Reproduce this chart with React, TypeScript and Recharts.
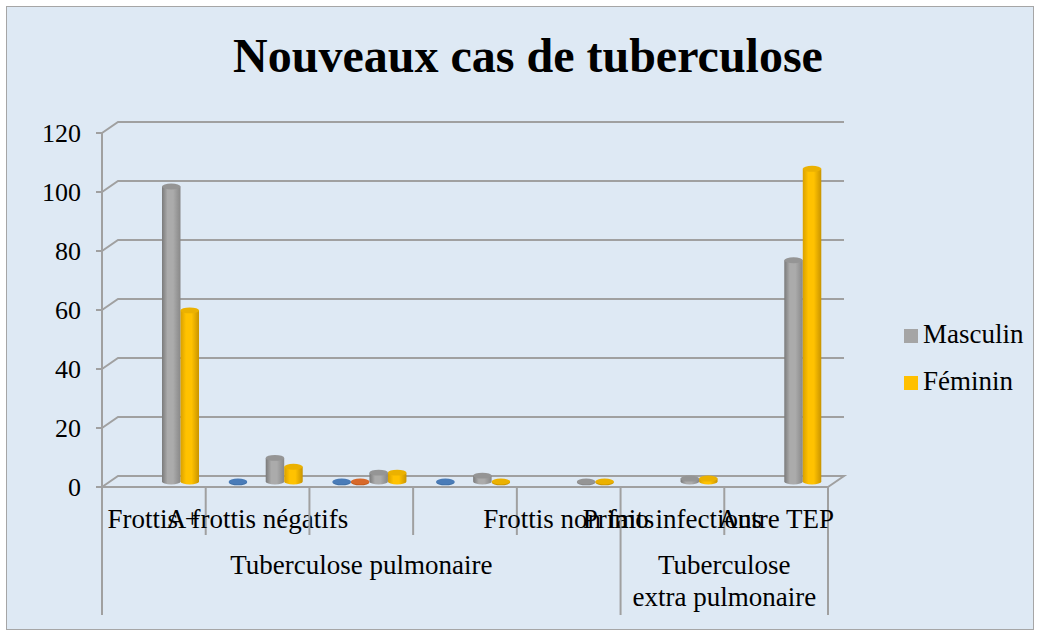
import React from 'react';
import { ComposedChart, Bar, XAxis, YAxis, CartesianGrid } from 'recharts';

// ---- data ----
const categories = ['Frottis +', 'A frottis négatifs', '', '', 'Frottis non faits', 'Primo infections', 'Autre TEP'];
const groupLabels = [['Tuberculose pulmonaire'], ['Tuberculose', 'extra pulmonaire']];
const groupSpans = [5, 2];
const serie1 = [null, 0, 0, 0, null, null, null];
const serie2 = [null, null, 0, null, null, null, null];
const masculin = [100, 8, 3, 2, 0, 1, 75];
const feminin = [58, 5, 3, 0, 0, 1, 106];
const yTicks = [0, 20, 40, 60, 80, 100, 120];

const data = categories.map((c, i) => ({
  idx: i,
  name: c,
  s1: serie1[i],
  s2: serie2[i],
  m: masculin[i],
  f: feminin[i],
}));

// ---- layout ----
const W = 1040;
const H = 632;
const MARGIN = { top: 133, right: 212, bottom: 15, left: 42 };
const YAXIS_W = 60;
const XAXIS_H = 130;
const PLOT_LEFT = MARGIN.left + YAXIS_W;
const PLOT_RIGHT = W - MARGIN.right;
const BAND = (PLOT_RIGHT - PLOT_LEFT) / categories.length;
const DEPTH_X = 16;
const DEPTH_Y = -11;
const GRID = '#a0a0a0';
const FONT = '"Liberation Serif", "Times New Roman", serif';

function makeCylinder(key: string, edge: string, mid: string, right: string, top: string) {
  return (props: any) => {
    const { x, y, width, height, payload, index } = props;
    if (!payload || payload[key] == null) return null;
    const dx = DEPTH_X / 2;
    const dy = DEPTH_Y / 2;
    const cx = x + dx;
    const w = width;
    const ry = Math.max(2.5, w * 0.16);
    const h = Math.max(0, height);
    const ty = y + dy;
    const by = y + h + dy;
    const gid = `cyl-${key}-${index}`;
    return (
      <g>
        <defs>
          <linearGradient id={gid} x1="0" y1="0" x2="1" y2="0">
            <stop offset="0%" stopColor={edge} />
            <stop offset="30%" stopColor={mid} />
            <stop offset="60%" stopColor={mid} />
            <stop offset="100%" stopColor={right} />
          </linearGradient>
        </defs>
        {h > 0.5 && (
          <path
            d={`M${cx},${ty} L${cx},${by} A${w / 2},${ry} 0 0 0 ${cx + w},${by} L${cx + w},${ty} Z`}
            fill={`url(#${gid})`}
          />
        )}
        {h <= 0.5 && (
          <ellipse cx={cx + w / 2} cy={by + 0.8} rx={w / 2} ry={ry} fill={right} />
        )}
        <ellipse cx={cx + w / 2} cy={ty} rx={w / 2} ry={ry} fill={top} />
      </g>
    );
  };
}

const blueShape = makeCylinder('s1', '#3f6fa5', '#4f81bd', '#3f6fa5', '#4a7cb8');
const orangeShape = makeCylinder('s2', '#c05a1c', '#e0702a', '#c05a1c', '#d8692a');
const grayShape = makeCylinder('m', '#7a7a7a', '#ababab', '#888888', '#959595');
const yellowShape = makeCylinder('f', '#d9a000', '#ffc200', '#c99400', '#ebb100');

const gridLine = (props: any) => {
  const { x1, x2, y1, index } = props;
  const plotBottom = H - MARGIN.bottom - XAXIS_H;
  const isFloor = Math.abs(y1 - plotBottom) < 1.5;
  const d =
    `M${x1},${y1} L${x1 + DEPTH_X},${y1 + DEPTH_Y} L${x2 + DEPTH_X},${y1 + DEPTH_Y}` +
    (isFloor ? ` L${x2},${y1}` : '');
  return <path key={`g-${index}-${y1}`} d={d} stroke={GRID} strokeWidth={2} fill="none" />;
};

const XTick = (props: any) => {
  const { x, y, payload } = props;
  const i = Number(payload.value);
  const left = x - BAND / 2;
  const right = x + BAND / 2;
  const starts: number[] = [];
  let acc = 0;
  groupSpans.forEach((s) => {
    starts.push(acc);
    acc += s;
  });
  const gIndex = starts.indexOf(i);
  const isGroupStart = gIndex >= 0;
  const isLast = i === categories.length - 1;
  return (
    <g>
      <line x1={left} y1={y} x2={left} y2={y + (isGroupStart ? 128 : 48)} stroke={GRID} strokeWidth={2} />
      {isLast && <line x1={right} y1={y} x2={right} y2={y + 128} stroke={GRID} strokeWidth={2} />}
      <text x={x} y={y + 41} textAnchor="middle" fontSize={27} fontFamily={FONT} fill="#000">
        {categories[i]}
      </text>
      {isGroupStart && (
        <text
          x={left + (groupSpans[gIndex] * BAND) / 2}
          y={y + 87}
          textAnchor="middle"
          fontSize={27}
          fontFamily={FONT}
          fill="#000"
        >
          {groupLabels[gIndex].map((ln, k) => (
            <tspan key={k} x={left + (groupSpans[gIndex] * BAND) / 2} dy={k === 0 ? 0 : 32}>
              {ln}
            </tspan>
          ))}
        </text>
      )}
    </g>
  );
};

export default function App() {
  return (
    <div style={{ position: 'absolute', left: 0, top: 0, width: W, height: H, background: '#fff', fontFamily: FONT }}>
      <div
        style={{
          position: 'absolute',
          left: 6,
          top: 6,
          width: 1026,
          height: 622,
          border: '1px solid #a6a6a6',
          background: '#dee9f4',
        }}
      />
      <div style={{ position: 'absolute', left: 0, top: 0 }}>
        <ComposedChart width={W} height={H} data={data} margin={MARGIN} barGap={0} barSize={18.5}>
          <CartesianGrid vertical={false} horizontal={gridLine} stroke={GRID} />
          <XAxis
            dataKey="idx"
            type="category"
            interval={0}
            height={XAXIS_H}
            tickSize={0}
            tickMargin={0}
            tickLine={false}
            axisLine={{ stroke: GRID, strokeWidth: 2 }}
            tick={<XTick />}
          />
          <YAxis
            width={YAXIS_W}
            domain={[0, 120]}
            ticks={yTicks}
            interval={0}
            tickSize={6}
            tickMargin={15}
            tickLine={{ stroke: GRID, strokeWidth: 2 }}
            axisLine={{ stroke: GRID, strokeWidth: 2 }}
            tick={{ fill: '#000', fontSize: 26, fontFamily: FONT }}
          />
          <Bar dataKey="s1" name="Série 1" fill="#4f81bd" shape={blueShape} isAnimationActive={false} />
          <Bar dataKey="s2" name="Série 2" fill="#e0702a" shape={orangeShape} isAnimationActive={false} />
          <Bar dataKey="m" name="Masculin" fill="#a5a5a5" shape={grayShape} isAnimationActive={false} />
          <Bar dataKey="f" name="Féminin" fill="#ffc000" shape={yellowShape} isAnimationActive={false} />
        </ComposedChart>
      </div>
      <svg width={W} height={H} style={{ position: 'absolute', left: 0, top: 0, pointerEvents: 'none' }}>
        <text x={528} y={72} textAnchor="middle" fontSize={48} fontWeight="bold" fontFamily={FONT} fill="#000">
          Nouveaux cas de tuberculose
        </text>
        <rect x={904} y={329} width={14} height={14} fill="#a5a5a5" />
        <text x={923} y={343} fontSize={27} fontFamily={FONT} fill="#000">Masculin</text>
        <rect x={904} y={376} width={14} height={14} fill="#ffc000" />
        <text x={923} y={390} fontSize={27} fontFamily={FONT} fill="#000">Féminin</text>
      </svg>
    </div>
  );
}
